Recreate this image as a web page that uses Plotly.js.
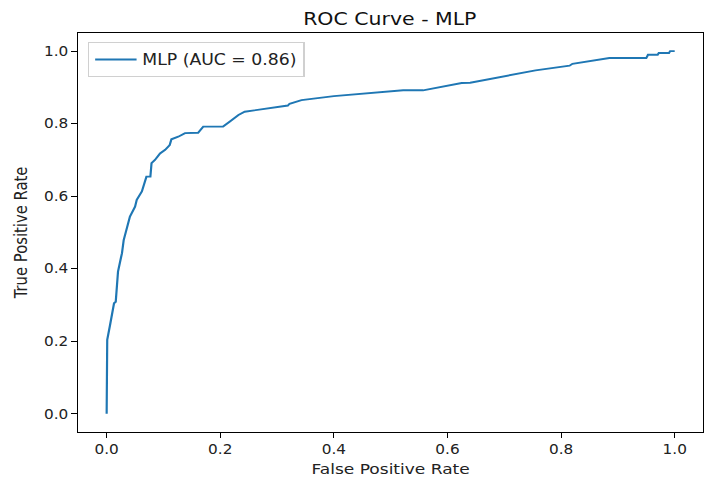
<!DOCTYPE html>
<html>
<head>
<meta charset="utf-8">
<script src="https://cdn.plot.ly/plotly-3.0.1.min.js"></script>
<style>
html,body{margin:0;padding:0;background:#fff;overflow:hidden;}
#wrap{width:710px;height:477px;overflow:hidden;}
#chart{width:617px;height:477px;transform:scaleX(1.150729);transform-origin:0 0;}
</style>
</head>
<body>
<div id="wrap"><div id="chart"></div></div>
<script>
var fpr = [0, 0, 0.001, 0.006, 0.009, 0.013, 0.016, 0.018, 0.02, 0.025, 0.027, 0.03, 0.035, 0.041, 0.05, 0.053, 0.062, 0.067, 0.07, 0.077, 0.079, 0.085, 0.094, 0.103, 0.111, 0.114, 0.126, 0.138, 0.161, 0.170, 0.205, 0.217, 0.232, 0.243, 0.264, 0.319, 0.322, 0.343, 0.400, 0.522, 0.557, 0.625, 0.640, 0.755, 0.815, 0.82, 0.885, 0.95, 0.953, 0.97, 0.972, 0.99, 0.992, 1.0];
var tpr = [0, 0.181, 0.204, 0.245, 0.277, 0.305, 0.309, 0.364, 0.392, 0.429, 0.443, 0.479, 0.512, 0.544, 0.571, 0.59, 0.613, 0.636, 0.654, 0.654, 0.691, 0.70, 0.718, 0.728, 0.741, 0.757, 0.764, 0.774, 0.775, 0.792, 0.792, 0.806, 0.824, 0.833, 0.838, 0.850, 0.855, 0.865, 0.876, 0.892, 0.892, 0.912, 0.913, 0.947, 0.960, 0.965, 0.981, 0.981, 0.99, 0.99, 0.995, 0.995, 1.0, 1.0];
var seriesName = "MLP (AUC = 0.86)";
var tickVals = [0, 0.2, 0.4, 0.6, 0.8, 1.0];
var tickText = ["0.0", "0.2", "0.4", "0.6", "0.8", "1.0"];

var font = "DejaVu Sans, sans-serif";
var axisCommon = {
  showgrid: false, zeroline: false,
  showline: true, mirror: true, linecolor: "#000", linewidth: 1,
  ticks: "outside", ticklen: 5, tickwidth: 1, tickcolor: "#000",
  tickmode: "array", tickvals: tickVals, ticktext: tickText,
  tickfont: {family: font, size: 13.3, color: "#222"}
};
var layout = {
  width: 617, height: 477,
  margin: {l: 68, r: 6, t: 33, b: 45},
  paper_bgcolor: "#fff", plot_bgcolor: "#fff",
  title: {text: "ROC Curve - MLP", font: {family: font, size: 17.8, color: "#111"}, x: 0.549, xanchor: "center", y: 0.960, yanchor: "middle"},
  xaxis: Object.assign({}, axisCommon, {range: [-0.05, 1.05],
    title: {text: "False Positive Rate", font: {family: font, size: 14.8, color: "#222"}, standoff: 7}}),
  yaxis: Object.assign({}, axisCommon, {range: [-0.05, 1.05],
    title: {text: "True Positive Rate", font: {family: font, size: 14.8, color: "#222"}, standoff: 10}}),
  showlegend: true,
  legend: {x: 0.016, y: 0.977, xanchor: "left", yanchor: "top", itemwidth: 36,
    bgcolor: "rgba(255,255,255,0.8)", bordercolor: "#d0d0d0", borderwidth: 1,
    font: {family: font, size: 15, color: "#222"}}
};
Plotly.newPlot("chart", [{
  x: fpr, y: tpr, type: "scatter", mode: "lines", name: seriesName,
  line: {color: "#1f77b4", width: 1.9}
}], layout, {displayModeBar: false, staticPlot: true});
</script>
</body>
</html>
